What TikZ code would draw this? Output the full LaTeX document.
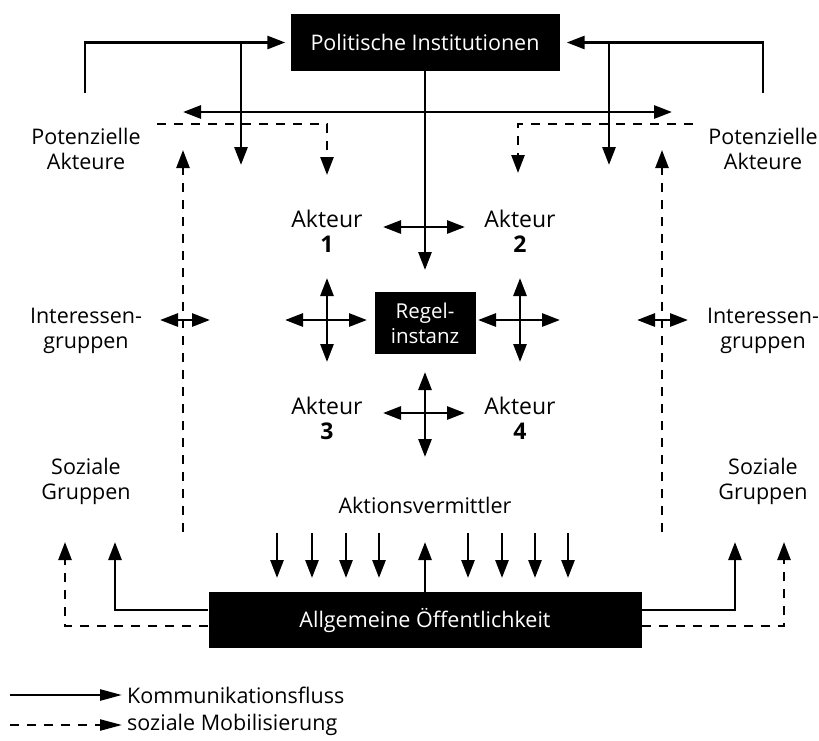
\documentclass[tikz,border=0pt]{standalone}
\usepackage{fontspec}
\setmainfont{Open Sans}
\usetikzlibrary{arrows.meta}
\begin{document}
\begin{tikzpicture}[x=1pt,y=-1pt,
  tip/.tip={Triangle[length=18pt,width=13pt]},
  flow/.style={line width=2.8pt,-tip},
  dflow/.style={line width=2.5pt,-tip,dash pattern=on 9pt off 8pt},
  both/.style={line width=2.8pt,tip-tip},
  blackbox/.style={fill=black,text=white,inner sep=0pt,font=\fontsize{21.5}{25}\selectfont,align=center},
  lbl/.style={align=center,inner sep=0pt,font=\fontsize{21.5}{25}\selectfont},
  akt/.style={align=center,inner sep=0pt,font=\fontsize{23}{25}\selectfont}]
\useasboundingbox (0,0) rectangle (819,740);
% boxes
\node[blackbox,minimum width=269pt,minimum height=57pt] (pol) at (425,42.5) {Politische Institutionen};
\node[blackbox,minimum width=101pt,minimum height=62pt,font=\fontsize{20.5}{25}\selectfont] (reg) at (425,323) {Regel-\\instanz};
\node[blackbox,minimum width=433pt,minimum height=56pt] (allg) at (425,620) {Allgemeine Öffentlichkeit};
% labels
\node[lbl] (potL) at (86,149) {Potenzielle\\Akteure};
\node[lbl] (potR) at (763,149) {Potenzielle\\Akteure};
\node[lbl] (intL) at (86,331) {Interessen-\\gruppen};
\node[lbl] (intR) at (763,331) {Interessen-\\gruppen};
\node[lbl] (sozL) at (86,481) {Soziale\\Gruppen};
\node[lbl] (sozR) at (763,481) {Soziale\\Gruppen};
\node[akt] (a1) at (327,231) {Akteur\\\textbf{1}};
\node[akt] (a2) at (520,231) {Akteur\\\textbf{2}};
\node[akt] (a3) at (327,418) {Akteur\\\textbf{3}};
\node[akt] (a4) at (520,418) {Akteur\\\textbf{4}};
\node[lbl] (av) at (425,505) {Aktionsvermittler};
% coordinates
\coordinate (tl) at (85,93);
\coordinate (tr) at (763,93);
\coordinate (vl0) at (241,42.5); \coordinate (vl1) at (241,165);
\coordinate (vr0) at (609,42.5); \coordinate (vr1) at (609,165);
\coordinate (h0) at (183,112); \coordinate (h1) at (672,112);
\coordinate (cdown) at (425,270);
\coordinate (dl0) at (157,124); \coordinate (dl1) at (327,175);
\coordinate (dr0) at (693,124); \coordinate (dr1) at (518,173);
\coordinate (ul0) at (183,532); \coordinate (ul1) at (183,150);
\coordinate (ur0) at (662,532); \coordinate (ur1) at (662,150);
% top connectors
\draw[flow] (tl) |- ([xshift=-5pt]pol.west);
\draw[flow] (tr) |- ([xshift=7pt]pol.east);
\draw[flow] (vl0) -- (vl1);
\draw[flow] (vr0) -- (vr1);
\draw[both] (h0) -- (h1);
\draw[flow] (pol.south) -- (cdown);
\draw[dflow] (dl0) -| (dl1);
\draw[dflow] (dr0) -| (dr1);
\draw[dflow] (ul0) -- (ul1);
\draw[dflow] (ur0) -- (ur1);
% double arrows
\coordinate (il0) at (160,320); \coordinate (il1) at (210,320);
\coordinate (ir0) at (637,320); \coordinate (ir1) at (688,320);
\draw[both] (il0) -- (il1);
\draw[both] (ir0) -- (ir1);
\coordinate (k0) at (383,227); \coordinate (k1) at (465,227);
\draw[both] (k0) -- (k1);
% crosses
\coordinate (cl0) at (285,320); \coordinate (cl1) at (367,320);
\coordinate (cl2) at (327,278); \coordinate (cl3) at (327,362);
\draw[both] (cl0) -- (cl1); \draw[both] (cl2) -- (cl3);
\coordinate (cr0) at (478,320); \coordinate (cr1) at (560,320);
\coordinate (cr2) at (520,278); \coordinate (cr3) at (520,362);
\draw[both] (cr0) -- (cr1); \draw[both] (cr2) -- (cr3);
\coordinate (cb0) at (383,413); \coordinate (cb1) at (465,413);
\coordinate (cb2) at (425,372); \coordinate (cb3) at (425,457);
\draw[both] (cb0) -- (cb1); \draw[both] (cb2) -- (cb3);
% Aktionsvermittler arrows
\foreach \x in {277,312,346,379,468,502,535,568}{
  \coordinate (m\x a) at (\x,533); \coordinate (m\x b) at (\x,578);
  \draw[flow] (m\x a) -- (m\x b);}
\coordinate (up) at (425,542);
\draw[flow] (allg.north) -- (up);
% bottom connectors
\coordinate (bl1) at (115,542); \coordinate (bl2) at (65,542);
\coordinate (br1) at (735,542); \coordinate (br2) at (784,542);
\draw[flow] ([yshift=10pt]allg.west) -| (bl1);
\draw[dflow] ([yshift=-6pt]allg.west) -| (bl2);
\draw[flow] ([yshift=10pt]allg.east) -| (br1);
\draw[dflow] ([yshift=-6pt]allg.east) -| (br2);
% legend
\coordinate (lg0) at (10,695); \coordinate (lg1) at (122,695);
\coordinate (lg2) at (10,725); \coordinate (lg3) at (122,725);
\draw[line width=2.5pt,-{Triangle[length=22pt,width=11pt]}] (lg0) -- (lg1);
\draw[line width=2.3pt,dash pattern=on 9pt off 8pt,-{Triangle[length=22pt,width=11pt]}] (lg2) -- (lg3);
\node[lbl,anchor=west] (leg1) at (127,695) {Kommunikationsfluss};
\node[lbl,anchor=west] (leg2) at (127,725) {soziale Mobilisierung};
\end{tikzpicture}
\end{document}
